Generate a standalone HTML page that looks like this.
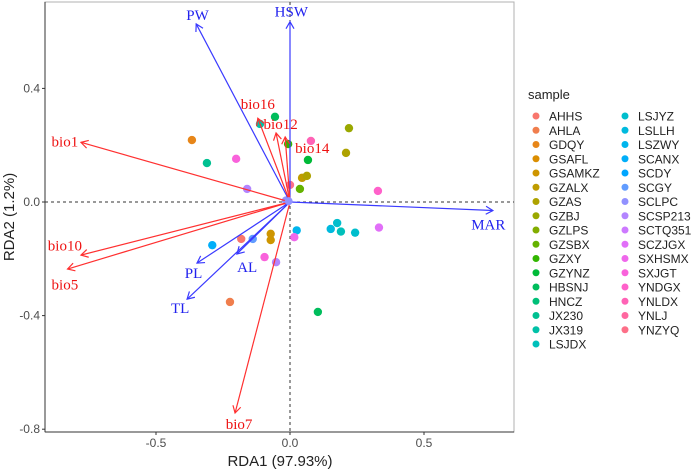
<!DOCTYPE html>
<html><head><meta charset="utf-8"><style>
body{margin:0;background:#fff;}
svg text{font-family:"Liberation Sans",sans-serif;}
.lab{font-family:"Liberation Serif",serif;font-size:15px;}
</style></head><body>
<svg id="chart" width="700" height="469" xmlns="http://www.w3.org/2000/svg">
<defs>
<marker id="ar" markerWidth="10" markerHeight="10" refX="8" refY="5" orient="auto" markerUnits="userSpaceOnUse"><path d="M1,1 L8,5 L1,9" fill="none" stroke="#ff3030" stroke-width="1.2"/></marker>
<marker id="ab" markerWidth="10" markerHeight="10" refX="8" refY="5" orient="auto" markerUnits="userSpaceOnUse"><path d="M1,1 L8,5 L1,9" fill="none" stroke="#3a3aff" stroke-width="1.2"/></marker>
</defs>
<rect x="45" y="2" width="469" height="430" fill="#fff" stroke="#b0b0b0" stroke-width="1"/>
<g id="g"></g>
</svg>
<script>
const pointSample=["GDQY","HBSNJ","JX319","GZXY","YNLDX","GZBJ","GZAS","GZYNZ","JX230","SXJGT","GZALX","GZAS","YNZYQ","GZSBX","SCSP213","YNDGX","SCLPC","LSZWY","LSLLH","LSJYZ","LSJDX","LSJYZ","SCZJGX","SXHSMX","GSAMKZ","GSAMKZ","SCGY","AHHS","SCANX","SXJGT","SCSP213","AHLA","HBSNJ"];
const pointX=[-0.366,-0.056,-0.112,-0.007,0.078,0.22,0.209,0.067,-0.31,-0.201,0.045,0.063,0,0.037,-0.16,0.328,-0.015,0.025,0.152,0.176,0.19,0.243,0.332,0.016,-0.072,-0.072,-0.139,-0.182,-0.29,-0.095,-0.052,-0.224,0.104];
const pointY=[0.218,0.30,0.275,0.204,0.215,0.26,0.173,0.148,0.137,0.152,0.085,0.092,0.06,0.046,0.046,0.039,0.005,-0.1,-0.095,-0.074,-0.104,-0.108,-0.09,-0.124,-0.112,-0.134,-0.13,-0.13,-0.152,-0.194,-0.212,-0.352,-0.387];
const arrowNames=["PW","HSW","MAR","PL","AL","TL","bio1","bio16","bio12","bio14","bio10","bio5","bio7"];
const arrowX=[-0.35,0.0,0.757,-0.347,-0.198,-0.384,-0.78,-0.12,-0.052,-0.018,-0.78,-0.83,-0.205];
const arrowY=[0.627,0.635,-0.03,-0.215,-0.183,-0.342,0.21,0.295,0.243,0.229,-0.187,-0.236,-0.743];
const arrowType=["trait","trait","trait","trait","trait","trait","env","env","env","env","env","env","env"];
const labelX=[-0.345,0.005,0.74,-0.36,-0.16,-0.41,-0.84,-0.12,-0.035,0.083,-0.84,-0.84,-0.19];
const labelY=[0.658,0.67,-0.08,-0.25,-0.229,-0.374,0.213,0.345,0.275,0.19,-0.154,-0.291,-0.782];
const xTicks=[-0.5,0,0.5], xTickLabels=["-0.5","0.0","0.5"];
const yTicks=[-0.8,-0.4,0,0.4], yTickLabels=["-0.8","-0.4","0.0","0.4"];
const legendOrder=["AHHS","AHLA","GDQY","GSAFL","GSAMKZ","GZALX","GZAS","GZBJ","GZLPS","GZSBX","GZXY","GZYNZ","HBSNJ","HNCZ","JX230","JX319","LSJDX","LSJYZ","LSLLH","LSZWY","SCANX","SCDY","SCGY","SCLPC","SCSP213","SCTQ351","SCZJGX","SXHSMX","SXJGT","YNDGX","YNLDX","YNLJ","YNZYQ"];

const sx=v=>290+v*268, sy=v=>202-v*284;
const NS="http://www.w3.org/2000/svg";
const g=document.getElementById('g');
function mk(t,a){const e=document.createElementNS(NS,t);for(const k in a)e.setAttribute(k,a[k]);g.appendChild(e);return e;}
function hcl(h,c,l){
  const Xn=95.047,Yn=100,Zn=108.883;
  const d=Xn+15*Yn+3*Zn, un=4*Xn/d, vn=9*Yn/d;
  const hr=h*Math.PI/180, u=c*Math.cos(hr), v=c*Math.sin(hr);
  const Y=Yn*Math.pow((l+16)/116,3);
  const up=u/(13*l)+un, vp=v/(13*l)+vn;
  const X=Y*9*up/(4*vp), Z=Y*(12-3*up-20*vp)/(4*vp);
  const x=X/100,y=Y/100,z=Z/100;
  let r=3.2406*x-1.5372*y-0.4986*z, gg=-0.9689*x+1.8758*y+0.0415*z, b=0.0557*x-0.2040*y+1.0570*z;
  const gm=t=>{t=t<=0.0031308?12.92*t:1.055*Math.pow(t,1/2.4)-0.055;return Math.round(255*Math.min(1,Math.max(0,t)));};
  return `rgb(${gm(r)},${gm(gg)},${gm(b)})`;
}
const n=legendOrder.length;
const colorOf={};legendOrder.forEach((s,i)=>colorOf[s]=hcl(15+i*360/n,100,65));

let e=mk('line',{x1:sx(0),x2:sx(0),y1:2,y2:432,stroke:'#333','stroke-dasharray':'3,3'});


e=mk('line',{x1:45,x2:514,y1:sy(0),y2:sy(0),stroke:'#333','stroke-dasharray':'3,3'});



pointX.forEach((x,i)=>{const c=mk('circle',{cx:sx(x),cy:sy(pointY[i]),r:4.2,fill:colorOf[pointSample[i]]});

});

arrowNames.forEach((nm,i)=>{const env=arrowType[i]==='env';const c=env?'#ff3030':'#3a3aff';
const l=mk('line',{x1:sx(0),y1:sy(0),x2:sx(arrowX[i]),y2:sy(arrowY[i]),stroke:c,'stroke-width':1.2,'marker-end':env?'url(#ar)':'url(#ab)'});


const t=mk('text',{x:sx(labelX[i]),y:sy(labelY[i])+5,'text-anchor':'middle',fill:env?'#ee1111':'#2222ee',class:'lab'});t.textContent=nm;

});
mk('circle',{cx:sx(-0.005),cy:sy(0.003),r:4,fill:colorOf['SCLPC']});

e=mk('line',{x1:45,x2:514,y1:432,y2:432,stroke:'#333','stroke-width':1});


e=mk('line',{x1:45,x2:45,y1:2,y2:432,stroke:'#333','stroke-width':1});


xTicks.forEach((v,i)=>{mk('line',{x1:sx(v),x2:sx(v),y1:432,y2:435,stroke:'#333'});
const t=mk('text',{x:sx(v),y:447,'text-anchor':'middle','font-size':12,fill:'#4d4d4d'});t.textContent=xTickLabels[i];

});
yTicks.forEach((v,i)=>{mk('line',{x1:42,x2:45,y1:sy(v),y2:sy(v),stroke:'#333'});
const t=mk('text',{x:40,y:sy(v)+4,'text-anchor':'end','font-size':12,fill:'#4d4d4d'});t.textContent=yTickLabels[i];

});
e=mk('text',{x:280,y:466,'text-anchor':'middle','font-size':15,fill:'#222'});e.textContent='RDA1 (97.93%)';


e=mk('text',{x:0,y:0,'text-anchor':'middle','font-size':15,fill:'#222',transform:'translate(14,217) rotate(-90)'});e.textContent='RDA2 (1.2%)';



e=mk('text',{x:528,y:99,'font-size':13,fill:'#222'});e.textContent='sample';


legendOrder.forEach((s,i)=>{const colI=i<17?0:1,row=i<17?i:i-17;const x0=colI?625:536,y0=116+row*14.25;
mk('circle',{cx:x0,cy:y0,r:3.5,fill:colorOf[s]});
const t=mk('text',{x:x0+13,y:y0+4.5,'font-size':12,fill:'#222'});t.textContent=s;

});
</script>
</body></html>
